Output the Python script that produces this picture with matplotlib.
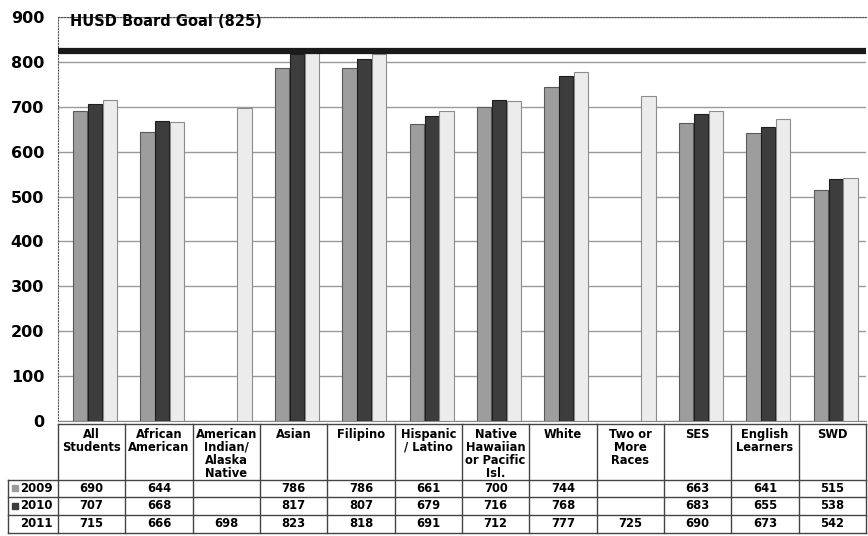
import numpy as np
import matplotlib
matplotlib.use("Agg")
import matplotlib.pyplot as plt

# scores (None = no bar / blank cell)
groups = ["All\nStudents", "African\nAmerican", "American\nIndian/\nAlaska\nNative",
          "Asian", "Filipino", "Hispanic\n/ Latino", "Native\nHawaiian\nor Pacific\nIsl.",
          "White", "Two or\nMore\nRaces", "SES", "English\nLearners", "SWD"]
years = ["2009", "2010", "2011"]
scores_2009 = [690, 644, None, 786, 786, 661, 700, 744, None, 663, 641, 515]
scores_2010 = [707, 668, None, 817, 807, 679, 716, 768, None, 683, 655, 538]
scores_2011 = [715, 666, 698, 823, 818, 691, 712, 777, 725, 690, 673, 542]
goal = 825
goal_label = "HUSD Board Goal (825)"
yticks = list(range(0, 1000, 100))

series = [scores_2009, scores_2010, scores_2011]
bar_colors = ["#9d9d9d", "#3d3d3d", "#ececec"]
edge_colors = ["#5a5a5a", "#1e1e1e", "#8c8c8c"]

W, H = 868, 536
fig = plt.figure(figsize=(W / 100, H / 100), dpi=100)

# main bar area (pixel layout of the original)
x0, x1 = 58, 866
y_top, y_bot = 17, 421
ax = fig.add_axes([x0 / W, (H - y_bot) / H, (x1 - x0) / W, (y_bot - y_top) / H])

n = len(groups)
idx = np.arange(n)
bw = 0.21
for k, vals in enumerate(series):
    v = np.array([np.nan if s is None else s for s in vals], dtype=float)
    ax.bar(idx + 0.05 + (k - 1) * 0.22, v, width=bw, color=bar_colors[k],
           edgecolor=edge_colors[k], linewidth=0.8, zorder=3)

ax.set_xlim(-0.5, n - 0.5)
ax.set_ylim(0, 900)
ax.set_yticks(yticks)
ax.set_yticklabels([str(t) for t in yticks], fontsize=11.5, fontweight="bold")
ax.tick_params(axis="y", length=0, pad=10)
ax.set_xticks([])
ax.grid(axis="y", color="#9a9a9a", linewidth=1, zorder=0)
for s in ["left", "top"]:
    ax.spines[s].set_linestyle(":")
    ax.spines[s].set_color("#555555")
ax.spines["right"].set_visible(False)
ax.spines["bottom"].set_color("#888888")

ax.axhline(goal, color="#1a1a1a", linewidth=4.5, zorder=4)
fig.text(70 / W, 1 - 22 / H, goal_label, fontsize=10.5, fontweight="bold",
         ha="left", va="center")

# data table under the bars
t_top, t_bot = 424, 533
tax = fig.add_axes([x0 / W, (H - t_bot) / H, (x1 - x0) / W, (t_bot - t_top) / H])
tax.set_xlim(-0.5, n - 0.5)
tax.set_ylim(t_bot, t_top)
tax.axis("off")

col_px = (x1 - x0) / n
lab_left = -0.5 - 50 / col_px
rows = [t_top, 480, 497, 515, t_bot]
lc = "#444444"

# vertical borders
for b in np.arange(-0.5, n, 1.0):
    tax.plot([b, b], [rows[0], rows[-1]], color=lc, lw=1, clip_on=False)
tax.plot([lab_left, lab_left], [rows[1], rows[-1]], color=lc, lw=1, clip_on=False)
# horizontal borders
tax.plot([-0.5, n - 0.5], [rows[0], rows[0]], color=lc, lw=1, clip_on=False)
for r in rows[1:]:
    tax.plot([lab_left, n - 0.5], [r, r], color=lc, lw=1, clip_on=False)

for i, g in enumerate(groups):
    tax.text(i, rows[0] + 4, g, ha="center", va="top", fontsize=8.3,
             fontweight="bold", linespacing=1.0)

for k, (yr, vals) in enumerate(zip(years, series)):
    yc = (rows[k + 1] + rows[k + 2]) / 2
    tax.text(-0.5 - 5 / col_px, yc, yr, ha="right", va="center", fontsize=8.5,
             fontweight="bold", clip_on=False)
    if k < 2:
        tax.plot(lab_left + 7 / col_px, yc, marker="s", ms=4.5,
                 color=bar_colors[k], clip_on=False)
    for i, v in enumerate(vals):
        if v is not None:
            tax.text(i, yc, str(v), ha="center", va="center", fontsize=8.3,
                     fontweight="bold")

fig.savefig("out.png", dpi=100)
